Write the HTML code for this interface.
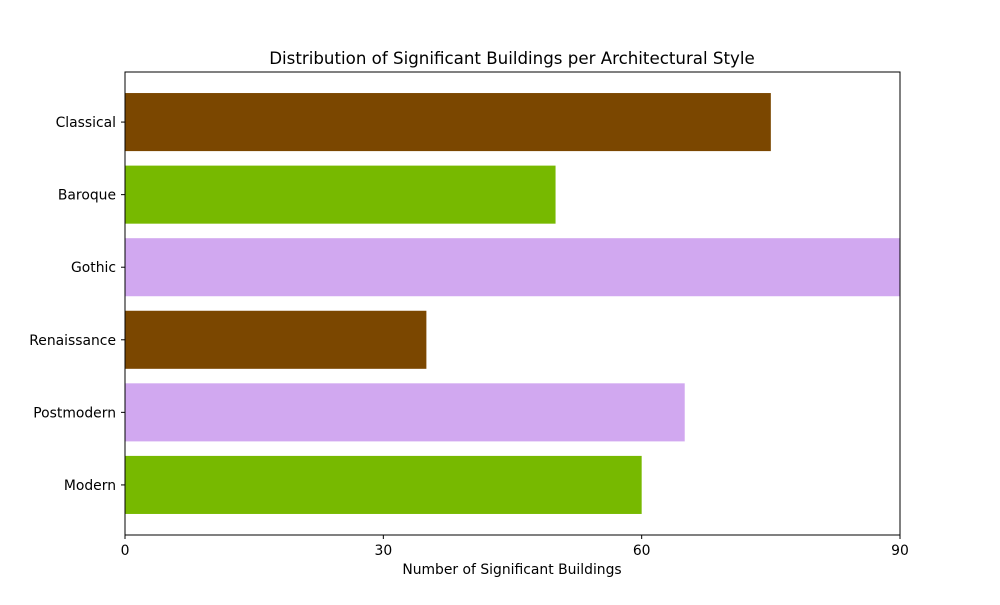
<!DOCTYPE html>
<html><head><meta charset="utf-8"><style>
body{margin:0;background:#fff;}
svg text{font-family:"DejaVu Sans","Liberation Sans",sans-serif;fill:#000;}
</style></head><body>
<svg id="chart" width="1000" height="600" xmlns="http://www.w3.org/2000/svg">
<rect width="1000" height="600" fill="#fff"/>
<text x="512" y="64" font-size="16.67" text-anchor="middle">Distribution of Significant Buildings per Architectural Style</text>
<g id="bars"></g>
<g id="yticks"></g>
<g id="xticks"></g>
<rect x="125" y="72" width="775" height="463" fill="none" stroke="#000" stroke-width="1"/>
<text x="512" y="574" font-size="13.9" text-anchor="middle">Number of Significant Buildings</text>
</svg>
<script>
const categories = ["Modern","Postmodern","Renaissance","Gothic","Baroque","Classical"];
const values = [60,65,35,90,50,75];
const colors = ["#77b900","#d1a8f0","#7b4700","#d1a8f0","#77b900","#7b4700"];
const xTicks = [0,30,60,90];
const NS="http://www.w3.org/2000/svg";
const L=125,R=900,T=72,B=535;
const xMin=0,xMax=90;
const yMin=-0.4-0.29,yMax=5.4+0.29;
function xs(v){return L+(v-xMin)/(xMax-xMin)*(R-L);}
function ys(i){return B-(i-yMin)/(yMax-yMin)*(B-T);}
const bh=0.8*(B-T)/(yMax-yMin);
const gb=document.getElementById('bars'),gy=document.getElementById('yticks'),gx=document.getElementById('xticks');
categories.forEach((c,i)=>{
  const r=document.createElementNS(NS,'rect');
  r.setAttribute('x',xs(0));r.setAttribute('y',ys(i)-bh/2);
  r.setAttribute('width',xs(values[i])-xs(0));r.setAttribute('height',bh);
  r.setAttribute('fill',colors[i]);
  
  
  gb.appendChild(r);
  const tk=document.createElementNS(NS,'line');
  tk.setAttribute('x1',L-4);tk.setAttribute('x2',L);tk.setAttribute('y1',ys(i));tk.setAttribute('y2',ys(i));tk.setAttribute('stroke','#000');
  
  
  gy.appendChild(tk);
  const t=document.createElementNS(NS,'text');
  t.setAttribute('x',L-9);t.setAttribute('y',ys(i)+5);t.setAttribute('text-anchor','end');t.setAttribute('font-size','13.9');
  t.textContent=c;
  
  
  gy.appendChild(t);
});
xTicks.forEach(v=>{
  const tk=document.createElementNS(NS,'line');
  tk.setAttribute('x1',xs(v));tk.setAttribute('x2',xs(v));tk.setAttribute('y1',B);tk.setAttribute('y2',B+4);tk.setAttribute('stroke','#000');
  
  
  gx.appendChild(tk);
  const t=document.createElementNS(NS,'text');
  t.setAttribute('x',xs(v));t.setAttribute('y',B+20);t.setAttribute('text-anchor','middle');t.setAttribute('font-size','13.9');
  t.textContent=v;
  
  
  gx.appendChild(t);
});
</script>
</body></html>
